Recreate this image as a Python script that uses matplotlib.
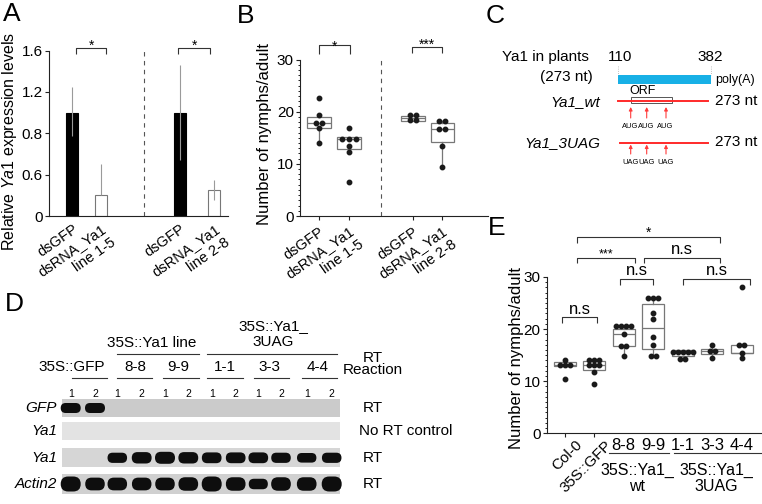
import matplotlib
matplotlib.use('Agg')
import matplotlib.pyplot as plt
from matplotlib.patches import Rectangle, FancyBboxPatch
from matplotlib.ticker import MultipleLocator
import matplotlib.transforms as mtransforms

plt.rcParams['font.family'] = ['Liberation Sans', 'DejaVu Sans']
plt.rcParams['mathtext.fontset'] = 'custom'
plt.rcParams['mathtext.rm'] = 'Liberation Sans'
plt.rcParams['mathtext.it'] = 'Liberation Sans:italic'

# ------------------------- data -------------------------
# Panel A
a_labels = ['dsGFP', 'dsRNA_Ya1\nline 1-5', 'dsGFP', 'dsRNA_Ya1\nline 2-8']
a_values = [1.0, 0.20, 1.0, 0.25]
a_err_lo = [0.23, 0.0, 0.46, 0.10]
a_err_hi = [0.25, 0.30, 0.46, 0.10]
a_filled = [True, False, True, False]
a_yticks = [0, 0.4, 0.8, 1.2, 1.6]
a_yticklabels = ['0', '0.6', '0.8', '1.2', '1.6']
a_sig = ['*', '*']

# Panel B
b_labels = ['dsGFP', 'dsRNA_Ya1\nline 1-5', 'dsGFP', 'dsRNA_Ya1\nline 2-8']
b_points = [
    [22.6, 19.3, 17.9, 17.9, 16.9, 14.0],
    [16.8, 14.8, 14.8, 14.8, 13.5, 12.2, 6.6],
    [19.3, 19.3, 18.4, 18.4],
    [18.2, 18.2, 16.7, 16.7, 13.5, 9.4],
]
b_q1 = [16.9, 12.8, 18.25, 14.1]
b_med = [17.9, 14.8, 18.7, 16.7]
b_q3 = [19.0, 15.1, 19.15, 17.75]
b_whislo = [14.0, 12.2, 18.25, 9.4]
b_whishi = [19.3, 15.1, 19.3, 18.2]
b_sig = ['*', '***']

# Panel E
e_labels = ['Col-0', '35S::GFP', '8-8', '9-9', '1-1', '3-3', '4-4']
e_points = [
    [14.0, 13.2, 13.2, 13.2, 10.5],
    [14.0, 14.0, 14.0, 13.2, 13.2, 13.2, 11.7, 9.4],
    [20.5, 20.5, 20.5, 20.5, 19.1, 16.85, 16.85, 14.9],
    [25.9, 25.9, 25.9, 23.0, 21.9, 18.4, 17.0, 14.75, 14.75],
    [15.7, 15.7, 15.7, 15.7, 15.7, 14.3, 14.3],
    [17.0, 15.8, 15.8, 14.4],
    [28.1, 17.0, 17.0, 15.5, 14.4],
]
e_q1 = [12.9, 12.2, 16.85, 16.2, 14.75, 15.25, 15.45]
e_med = [13.2, 13.2, 19.1, 20.2, 15.7, 15.8, 15.5]
e_q3 = [13.7, 13.8, 20.0, 24.9, 15.9, 16.2, 17.0]
e_whislo = [12.9, 11.7, 14.9, 14.75, 14.3, 14.4, 14.4]
e_whishi = [13.7, 14.0, 20.5, 25.9, 15.9, 17.0, 17.0]
e_group_names = ['35S::Ya1_\nwt', '35S::Ya1_\n3UAG']
e_sig = ['n.s', 'n.s', 'n.s', '***', 'n.s', '*']

# Panel D (gel band intensities, lanes 1..12)
d_rows = ['GFP', 'Ya1', 'Ya1', 'Actin2']
d_row_tags = ['RT', 'No RT control', 'RT', 'RT']
d_lane_numbers = ['1', '2'] * 6
d_line_names = ['8-8', '9-9', '1-1', '3-3', '4-4']
d_bands = [
    [1.0, 1.0, 0, 0, 0, 0, 0, 0, 0, 0, 0, 0],
    [0, 0, 0, 0, 0, 0, 0, 0, 0, 0, 0, 0],
    [0, 0, 0.85, 0.95, 1.0, 0.95, 0.9, 0.9, 0.9, 0.85, 0.8, 0.85],
    [1.0, 0.85, 0.85, 0.85, 0.85, 0.9, 1.0, 0.9, 0.7, 0.9, 0.9, 1.0],
]

# ------------------------- figure -------------------------
W, H = 762, 504
fig = plt.figure(figsize=(W / 100, H / 100), dpi=100)
ov = fig.add_axes([0, 0, 1, 1])
ov.set_xlim(0, W)
ov.set_ylim(H, 0)
ov.axis('off')

def fax(x0, y_top, x1, y_bot):
    return fig.add_axes([x0 / W, 1 - y_bot / H, (x1 - x0) / W, (y_bot - y_top) / H])

def style_axes(ax):
    for s in ['top', 'right']:
        ax.spines[s].set_visible(False)
    for s in ['left', 'bottom']:
        ax.spines[s].set_linewidth(0.8)
        ax.spines[s].set_color('#222222')
    ax.tick_params(axis='both', direction='out', length=3, width=0.8,
                   labelsize=11, pad=1.5, color='#222222')

def bracket(ax, x1, x2, ytop, yend, label, fs, dy_px):
    ax.plot([x1, x1, x2, x2], [yend, ytop, ytop, yend], color='#333333',
            lw=0.8, clip_on=False, solid_capstyle='butt')
    ax.annotate(label, xy=((x1 + x2) / 2, ytop), xytext=(0, dy_px * 0.72),
                textcoords='offset points', ha='center', va='baseline',
                fontsize=fs, annotation_clip=False)

def jitter(vals, step):
    out = []
    seen = {}
    counts = {v: vals.count(v) for v in vals}
    for v in vals:
        k = seen.get(v, 0)
        seen[v] = k + 1
        out.append((k - (counts[v] - 1) / 2) * step)
    return out

box_kw = dict(showfliers=False, showcaps=False, patch_artist=True,
              boxprops=dict(facecolor='white', edgecolor='#777777', linewidth=0.9),
              medianprops=dict(color='#777777', linewidth=0.9),
              whiskerprops=dict(color='#777777', linewidth=0.9))

# ------------------------- Panel A -------------------------
axA = fax(49, 50.5, 228, 216)
style_axes(axA)
a_pos = [0, 0.95, 3.57, 4.73]
for x, v, lo, hi, f in zip(a_pos, a_values, a_err_lo, a_err_hi, a_filled):
    axA.bar(x, v, width=0.4, color='black' if f else 'white',
            edgecolor='black' if f else '#777777', linewidth=0.8, zorder=2)
    axA.errorbar(x, v, yerr=[[lo], [hi]], fmt='none', ecolor='#9a9a9a',
                 elinewidth=0.8, capsize=0, zorder=3)
axA.set_xlim(-0.78, 5.18)
axA.set_ylim(0, 1.6)
axA.set_yticks(a_yticks)
axA.set_yticklabels(a_yticklabels)
axA.set_xticks(a_pos)
axA.set_xticklabels(a_labels, rotation=35, ha='right', va='top',
                    rotation_mode='anchor', fontsize=10.5)
axA.tick_params(axis='x', length=0, pad=4)
axA.axvline(2.38, color='#555555', lw=0.8, ls=(0, (4, 4)))
bracket(axA, 0.12, 1.12, 1.627, 1.566, a_sig[0], 10, -2)
bracket(axA, 3.53, 4.58, 1.627, 1.566, a_sig[1], 10, -2)
ov.text(10, 141, r'Relative $\it{Ya1}$ expression levels', rotation=90,
        ha='center', va='center', fontsize=11.5)

# ------------------------- Panel B -------------------------
axB = fax(300, 59.5, 488, 216)
style_axes(axB)
b_pos = [0, 1, 3.13, 4.1]
b_stats = [dict(med=m, q1=a, q3=b, whislo=l, whishi=h, fliers=[])
           for m, a, b, l, h in zip(b_med, b_q1, b_q3, b_whislo, b_whishi)]
axB.bxp(b_stats, positions=b_pos, widths=0.77, **box_kw)
for x, pts in zip(b_pos, b_points):
    offs = jitter(pts, 0.22)
    axB.plot([x + o for o in offs], pts, 'o', ms=3.2, color='#1a1a1a', zorder=4)
axB.set_xlim(-0.633, 5.63)
axB.set_ylim(0, 30)
axB.set_yticks([0, 10, 20, 30])
axB.yaxis.set_minor_locator(MultipleLocator(1))
axB.tick_params(axis='y', which='minor', length=1.5, width=0.6)
axB.set_xticks(b_pos)
axB.set_xticklabels(b_labels, rotation=35, ha='right', va='top',
                    rotation_mode='anchor', fontsize=10.5)
axB.tick_params(axis='x', pad=3)
axB.axvline(2.07, color='#555555', lw=0.8, ls=(0, (4, 4)))
bracket(axB, 0.0, 1.03, 32.7, 31.0, b_sig[0], 10, -5)
bracket(axB, 3.09, 4.1, 32.4, 31.2, b_sig[1], 10, -2)
ov.text(265, 134, 'Number of nymphs/adult', rotation=90, ha='center',
        va='center', fontsize=12)

# ------------------------- Panel C -------------------------
ov.text(589, 57, 'Ya1 in plants', ha='right', va='center', fontsize=11)
ov.text(593, 77, '(273 nt)', ha='right', va='center', fontsize=11)
ov.text(620, 57, '110', ha='center', va='center', fontsize=11)
ov.text(710, 57, '382', ha='center', va='center', fontsize=11)
for xx in (618, 711):
    ov.plot([xx, xx], [66, 75], color='#aaaaaa', lw=0.6, ls=':')
ov.add_patch(Rectangle((618, 75), 93, 9, facecolor='#18b0e6', edgecolor='none'))
ov.text(715, 80, 'poly(A)', ha='left', va='center', fontsize=9)
ov.text(600, 102, 'Ya1_wt', ha='right', va='center', fontsize=11, style='italic')
ov.plot([618, 708], [100.7, 100.7], color='#ff2a2a', lw=1.4)
ov.add_patch(Rectangle((630.7, 97.3), 41, 6, facecolor='none',
                       edgecolor='#555555', lw=0.7))
ov.text(643, 91, 'ORF', ha='center', va='center', fontsize=9)
ov.text(715, 101, '273 nt', ha='left', va='center', fontsize=11)
ov.text(600, 143, 'Ya1_3UAG', ha='right', va='center', fontsize=11, style='italic')
ov.plot([620, 708], [142.7, 142.7], color='#ff2a2a', lw=1.4)
ov.text(715, 142, '273 nt', ha='left', va='center', fontsize=11)
for xx in (630.7, 646.7, 666):
    ov.annotate('', xy=(xx, 107), xytext=(xx, 118),
                arrowprops=dict(arrowstyle='-|>', color='#ff3b3b', lw=0.8,
                                mutation_scale=5, shrinkA=0, shrinkB=0))
    ov.text(xx - 0.5, 126, 'AUG', ha='center', va='center', fontsize=5.4)
    ov.annotate('', xy=(xx, 144.5), xytext=(xx, 154),
                arrowprops=dict(arrowstyle='-|>', color='#ff3b3b', lw=0.8,
                                mutation_scale=5, shrinkA=0, shrinkB=0))
    ov.text(xx - 0.5, 162, 'UAG', ha='center', va='center', fontsize=5.4)

# ------------------------- Panel D -------------------------
lane_x = [70.7, 95, 117.3, 141.7, 165, 188.3, 211.7, 235.7, 258.3, 281, 306.7, 331.7]
row_y = [(399.3, 416.7), (422.3, 440), (448.3, 467.3), (474, 494)]
row_bg = ['#cbcbcb', '#e3e3e3', '#d6d6d6', '#d0d0d0']
row_band_h = [10, 0, 12, 15]
for (y0, y1), bg, bands, bh, name, tag in zip(row_y, row_bg, d_bands, row_band_h,
                                               d_rows, d_row_tags):
    ov.add_patch(Rectangle((61.7, y0), 340 - 61.7, y1 - y0, facecolor=bg,
                           edgecolor='none'))
    yc = (y0 + y1) / 2
    for xx, b in zip(lane_x, bands):
        if b <= 0:
            continue
        h = bh * b
        w = 20 * (0.85 + 0.15 * b)
        ov.add_patch(FancyBboxPatch((xx - w / 2, yc - h / 2), w, h,
                                    boxstyle=f'round,pad=0,rounding_size={h / 2:.2f}',
                                    facecolor='#0e0e0e', edgecolor='none'))
    ov.text(57, yc, name, ha='right', va='center', fontsize=11, style='italic')
    if tag == 'RT':
        ov.text(373, yc, tag, ha='center', va='center', fontsize=11)
    else:
        ov.text(359, yc, tag, ha='left', va='center', fontsize=11)
for xx, n in zip(lane_x, d_lane_numbers):
    ov.text(xx, 394, n, ha='center', va='center', fontsize=7.5)
ov.text(71.7, 366.7, '35S::GFP', ha='center', va='center', fontsize=11)
ov.plot([71.7, 106.7], [378.3, 378.3], color='#333333', lw=0.8)
line_txt_x = [135, 178, 225, 269, 318]
line_ul = [(117, 152), (163, 199), (207, 243), (254, 289), (302, 337)]
for xx, (u0, u1), n in zip(line_txt_x, line_ul, d_line_names):
    ov.text(xx, 366.7, n, ha='center', va='center', fontsize=11)
    ov.plot([u0, u1], [378.3, 378.3], color='#333333', lw=0.8)
ov.text(152, 342.7, '35S::Ya1 line', ha='center', va='center', fontsize=11)
ov.plot([117, 199], [354, 354], color='#333333', lw=0.8)
ov.text(273, 334, '35S::Ya1_\n3UAG', ha='center', va='center', fontsize=11,
        linespacing=1.2, multialignment='center')
ov.plot([207, 337], [354, 354], color='#333333', lw=0.8)
ov.text(373, 364, 'RT\nReaction', ha='center', va='center', fontsize=11,
        linespacing=0.78, multialignment='center')

# ------------------------- Panel E -------------------------
axE = fax(546.7, 277, 762, 433.3)
style_axes(axE)
e_pos = list(range(len(e_labels)))
e_stats = [dict(med=m, q1=a, q3=b, whislo=l, whishi=h, fliers=[])
           for m, a, b, l, h in zip(e_med, e_q1, e_q3, e_whislo, e_whishi)]
axE.bxp(e_stats, positions=e_pos, widths=0.75, **box_kw)
for x, pts in zip(e_pos, e_points):
    offs = jitter(pts, 0.17)
    axE.plot([x + o for o in offs], pts, 'o', ms=3.2, color='#1a1a1a',
             zorder=4, clip_on=False)
axE.set_xlim(-0.61, 6.69)
axE.set_ylim(0, 30)
axE.set_yticks([0, 10, 20, 30])
axE.yaxis.set_minor_locator(MultipleLocator(1))
axE.tick_params(axis='y', which='minor', length=1.5, width=0.6)
axE.set_xticks(e_pos[:2])
axE.set_xticklabels([])
tE = mtransforms.blended_transform_factory(axE.transData, ov.transData)
for x, lab in zip(e_pos[:2], e_labels[:2]):
    axE.text(x + 0.35, 438, lab, transform=tE, rotation=45, ha='right', va='top',
             rotation_mode='anchor', fontsize=11, clip_on=False)
for x, lab in zip(e_pos[2:], e_labels[2:]):
    axE.text(x, 445, lab, transform=tE, ha='center', va='center', fontsize=12,
             clip_on=False)
axE.plot([1.51, 3.54], [453.3, 453.3], transform=tE, color='#333333', lw=0.8,
         clip_on=False)
axE.plot([3.71, 6.68], [453.3, 453.3], transform=tE, color='#333333', lw=0.8,
         clip_on=False)
for xc, gname in zip([2.45, 5.15], e_group_names):
    axE.text(xc, 478.5, gname, transform=tE, ha='center', va='center',
             fontsize=11.5, linespacing=1.15, multialignment='center',
             clip_on=False)
e_brackets = [(-0.1, 1.1, 22.3, 21.1), (1.87, 3.0, 29.7, 28.5), (4.02, 6.28, 29.7, 28.5),
              (0.41, 2.38, 33.7, 32.6), (2.69, 5.27, 33.7, 32.6), (0.41, 5.27, 37.65, 36.6)]
for (x1, x2, yt, ye), lab in zip(e_brackets, e_sig):
    if lab == 'n.s':
        bracket(axE, x1, x2, yt, ye, lab, 12, 3.5)
    elif lab == '***':
        bracket(axE, x1, x2, yt, ye, lab, 9, 0)
    else:
        bracket(axE, x1, x2, yt, ye, lab, 10, 0)
ov.text(516, 358, 'Number of nymphs/adult', rotation=90, ha='center',
        va='center', fontsize=12)

# ------------------------- panel letters -------------------------
for lt, (xx, yy) in zip('ABCDE', [(12, 14), (246, 16), (495, 16), (14, 304), (497, 228)]):
    ov.text(xx, yy, lt, ha='center', va='center', fontsize=19)

fig.savefig('out.png', dpi=100)
